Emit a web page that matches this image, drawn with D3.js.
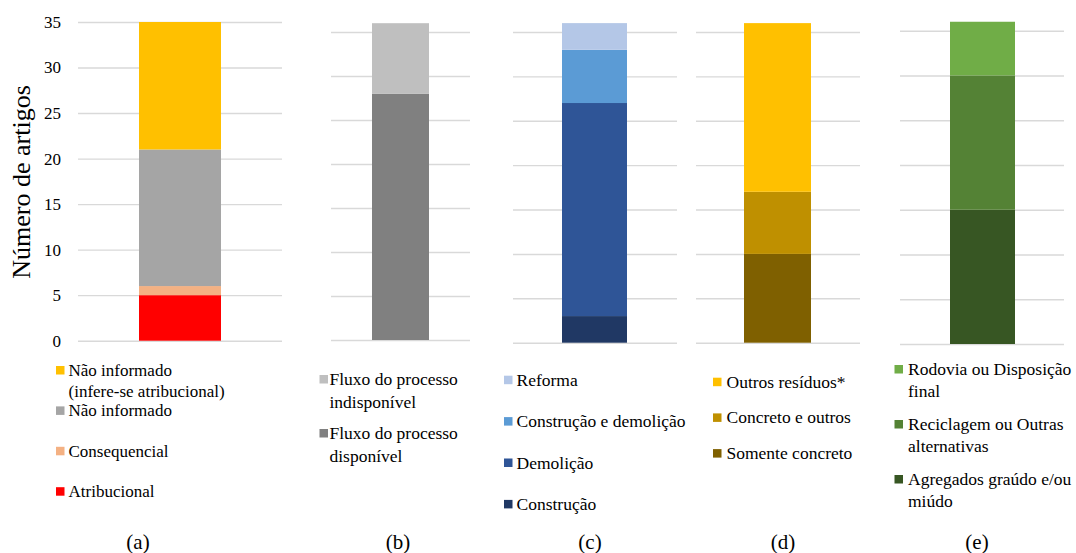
<!DOCTYPE html>
<html>
<head>
<meta charset="utf-8">
<script src="https://cdn.jsdelivr.net/npm/d3@7"></script>
<style>
  html, body { margin: 0; padding: 0; background: #fff; }
  svg { display: block; }
  text { font-family: "Liberation Serif", "Times New Roman", serif; fill: #000; }
</style>
</head>
<body>
<svg id="chart" width="1076" height="553"></svg>
<script>
// ---- data ----------------------------------------------------------------
const yTicks = [0, 5, 10, 15, 20, 25, 30, 35];
const panelLabels = ["(a)", "(b)", "(c)", "(d)", "(e)"];
const yTitle = "Número de artigos";

// each stack is listed bottom → top; "\n" marks a legend line break
const seriesA = ["Atribucional", "Consequencial", "Não informado", "Não informado\n(infere-se atribucional)"];
const valuesA = [5, 1, 15, 14];
const colorsA = ["#FF0000", "#F4B183", "#A5A5A5", "#FFC000"];

const seriesB = ["Fluxo do processo\ndisponível", "Fluxo do processo\nindisponível"];
const valuesB = [28, 8];
const colorsB = ["#808080", "#BFBFBF"];

const seriesC = ["Construção", "Demolição", "Construção e demolição", "Reforma"];
const valuesC = [3, 24, 6, 3];
const colorsC = ["#203864", "#2F5597", "#5B9BD5", "#B4C7E7"];

const seriesD = ["Somente concreto", "Concreto e outros", "Outros resíduos*"];
const valuesD = [10, 7, 19];
const colorsD = ["#7F6000", "#BF9000", "#FFC000"];

const seriesE = ["Agregados graúdo e/ou\nmiúdo", "Reciclagem ou Outras\nalternativas", "Rodovia ou Disposição\nfinal"];
const valuesE = [15, 15, 6];
const colorsE = ["#375623", "#548235", "#70AD47"];

// ---- layout of the five small charts ---------------------------------------
const panels = [
  { series: seriesA, values: valuesA, colors: colorsA, label: panelLabels[0], labelX: 138,
    grid: [78, 282], bar: [139, 221], yRange: [340.7, 22], showTicks: true,
    legend: { sqX: 56, textX: 68.5, y: 376, step: 40.4, lineH: 21, font: 17 } },
  { series: seriesB, values: valuesB, colors: colorsB, label: panelLabels[1], labelX: 398,
    grid: [331, 470], bar: [372, 429], yRange: [340, 32],
    legend: { sqX: 319.5, textX: 329.5, y: 385, step: 54, lineH: 23.3, font: 17.5 } },
  { series: seriesC, values: valuesC, colors: colorsC, label: panelLabels[2], labelX: 590,
    grid: [513, 677], bar: [562, 627], yRange: [342.7, 32],
    legend: { sqX: 504, textX: 516.5, y: 385.7, step: 41.4, lineH: 21, font: 17.5 } },
  { series: seriesD, values: valuesD, colors: colorsD, label: panelLabels[3], labelX: 783,
    grid: [696, 860], bar: [744, 811], yRange: [342.7, 32],
    legend: { sqX: 713, textX: 726.5, y: 387.7, step: 35.7, lineH: 21, font: 17.5 } },
  { series: seriesE, values: valuesE, colors: colorsE, label: panelLabels[4], labelX: 977,
    grid: [900, 1064], bar: [950, 1015], yRange: [344, 30.7],
    legend: { sqX: 894.5, textX: 908, y: 375, step: 55, lineH: 21.7, font: 17.5 } }
];

const svg = d3.select("#chart");

panels.forEach(p => {
  const g = svg.append("g");
  const y = d3.scaleLinear().domain([0, 35]).range(p.yRange);

  // horizontal gridlines (and value labels on the first chart)
  const axis = d3.axisLeft(y)
    .tickValues(yTicks)
    .tickSize(-(p.grid[1] - p.grid[0]))
    .tickPadding(17)
    .tickFormat(p.showTicks ? d3.format("d") : () => "");
  const ax = g.append("g")
    .attr("transform", `translate(${p.grid[0]},0)`)
    .call(axis);
  ax.select(".domain").remove();
  ax.selectAll(".tick line").attr("stroke", "#d9d9d9").attr("stroke-width", 1.4);
  ax.selectAll(".tick text")
    .attr("font-size", 17)
    .attr("font-family", "'Liberation Serif', 'Times New Roman', serif")
    .attr("fill", "#000");

  // single stacked column
  const row = {};
  p.series.forEach((s, i) => { row[s] = p.values[i]; });
  const stacked = d3.stack().keys(p.series)([row]);
  const x = d3.scaleBand().domain(["col"]).range(p.bar).padding(0);

  g.selectAll("rect.seg")
    .data(stacked)
    .join("rect")
    .attr("class", "seg")
    .attr("x", x("col"))
    .attr("width", x.bandwidth())
    .attr("y", d => y(d[0][1]))
    .attr("height", d => y(d[0][0]) - y(d[0][1]))
    .attr("fill", (d, i) => p.colors[i]);

  // legend, top series first
  const L = p.legend;
  const order = d3.range(p.series.length).reverse();
  const items = g.selectAll("g.leg")
    .data(order)
    .join("g")
    .attr("class", "leg")
    .attr("transform", (d, k) => `translate(0,${L.y + k * L.step})`);
  items.append("rect")
    .attr("x", L.sqX)
    .attr("y", -10)
    .attr("width", 8.5)
    .attr("height", 8.5)
    .attr("fill", i => p.colors[i]);
  items.append("text")
    .attr("font-size", L.font)
    .selectAll("tspan")
    .data(i => p.series[i].split("\n"))
    .join("tspan")
    .attr("x", L.textX)
    .attr("y", (t, j) => j * L.lineH)
    .text(t => t);

  // chart caption
  svg.append("text")
    .attr("x", p.labelX)
    .attr("y", 549)
    .attr("text-anchor", "middle")
    .attr("font-size", 21)
    .text(p.label);
});

// vertical axis title
svg.append("text")
  .attr("transform", "translate(29.5,182) rotate(-90)")
  .attr("text-anchor", "middle")
  .attr("font-size", 26)
  .text(yTitle);
</script>
</body>
</html>
